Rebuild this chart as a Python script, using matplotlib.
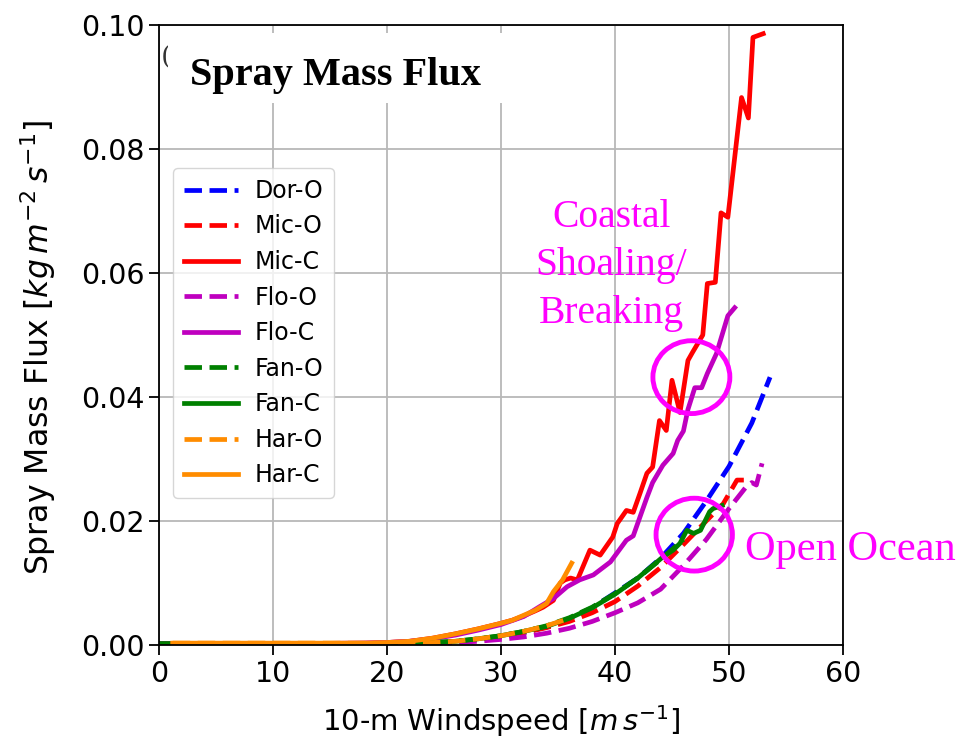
import matplotlib
matplotlib.use("Agg")
import matplotlib.pyplot as plt
from matplotlib.patches import Ellipse, Rectangle

# ---- data: 10-m wind speed [m/s] vs spray mass flux [kg m^-2 s^-1] ----
dor_o_u = [0, 10, 20, 24, 26, 28, 30, 32, 34, 36, 38, 40, 42, 44, 46, 48, 50, 52, 53.6]
dor_o_f = [0.0002, 0.0002, 0.0002, 0.0003, 0.0005, 0.0009, 0.0014, 0.0020, 0.0029, 0.0042,
           0.0060, 0.0084, 0.0108, 0.0140, 0.0180, 0.0232, 0.0288, 0.0358, 0.0432]

mic_o_u = [0, 10, 20, 24, 26, 28, 30, 32, 34, 36, 38, 40, 42, 44, 46, 48, 49.5, 50.7, 51.3]
mic_o_f = [0.0002, 0.0002, 0.0002, 0.0003, 0.0005, 0.0009, 0.0013, 0.0020, 0.0028, 0.0038,
           0.0052, 0.0070, 0.0095, 0.0125, 0.0162, 0.0200, 0.0228, 0.0266, 0.0266]

mic_c_u = [0, 10, 18, 20, 22, 24, 26, 28, 30, 31, 32, 33, 33.7, 34.6, 35.2, 35.6, 36.1, 36.7,
           37.8, 38.7, 39.8, 40.2, 41.0, 41.6, 42.2, 42.8, 43.3, 43.9, 44.5, 45.0, 45.7, 46.4,
           46.8, 47.7, 48.1, 48.8, 49.3, 49.9, 51.1, 51.7, 52.1, 53.0]
mic_c_f = [0.0002, 0.0002, 0.0003, 0.0004, 0.0006, 0.0011, 0.0018, 0.0026, 0.0035, 0.0040,
           0.0047, 0.0055, 0.0061, 0.0072, 0.0100, 0.0105, 0.0108, 0.0105, 0.0153, 0.0145,
           0.0174, 0.0196, 0.0217, 0.0214, 0.0245, 0.0277, 0.0287, 0.0362, 0.0346, 0.0427,
           0.0375, 0.0459, 0.0472, 0.0500, 0.0583, 0.0585, 0.0697, 0.0690, 0.0883, 0.0850,
           0.0980, 0.0986]

flo_o_u = [0, 10, 20, 24, 26, 28, 30, 32, 34, 36, 38, 40, 42, 44, 46, 48, 50, 51.5, 52.0,
           52.4, 52.9]
flo_o_f = [0.0002, 0.0002, 0.0002, 0.0003, 0.0004, 0.0006, 0.0009, 0.0013, 0.0019, 0.0027,
           0.0038, 0.0052, 0.0068, 0.0090, 0.0128, 0.0170, 0.0220, 0.0255, 0.0262, 0.0258,
           0.0293]

flo_c_u = [0, 10, 18, 20, 22, 24, 26, 28, 30, 32, 33.4, 34.6, 35.8, 36.9, 38.1, 39.6, 41.0,
           41.6, 42.8, 43.3, 44.2, 45.1, 45.5, 46.0, 46.4, 47.0, 47.6, 48.1, 48.9, 49.9, 50.5]
flo_c_f = [0.0002, 0.0002, 0.0003, 0.0004, 0.0006, 0.0010, 0.0016, 0.0024, 0.0033, 0.0046,
           0.0062, 0.0075, 0.0094, 0.0105, 0.0113, 0.0134, 0.0169, 0.0176, 0.0238, 0.0262,
           0.0290, 0.0309, 0.0330, 0.0345, 0.0380, 0.0415, 0.0415, 0.0438, 0.0470, 0.0531,
           0.0544]

fan_o_u = [0, 10, 20, 23, 26, 28, 30, 32, 34, 36, 38, 40, 42, 44, 46]
fan_o_f = [0.0002, 0.0002, 0.0002, 0.0003, 0.0006, 0.0010, 0.0015, 0.0022, 0.0031, 0.0044,
           0.0061, 0.0083, 0.0108, 0.0138, 0.0170]

fan_c_u = [0, 10, 20, 23, 26, 28, 30, 32, 34, 36, 38, 40, 42, 44.2, 45.1, 45.7, 46.3, 46.9,
           47.5, 48.3, 48.6, 49.4]
fan_c_f = [0.0002, 0.0002, 0.0002, 0.0003, 0.0006, 0.0010, 0.0015, 0.0022, 0.0030, 0.0043,
           0.0060, 0.0082, 0.0108, 0.0142, 0.0153, 0.0164, 0.0185, 0.0180, 0.0185, 0.0215,
           0.0220, 0.0225]

har_o_u = [1.2, 10, 20, 23, 26, 28, 30, 32, 34, 36]
har_o_f = [0.0003, 0.0003, 0.0003, 0.0003, 0.0006, 0.0010, 0.0015, 0.0022, 0.0031, 0.0043]

har_c_u = [1.2, 5, 10, 15, 18, 20, 22, 24, 26, 28, 30, 31, 32, 33, 34.0, 34.6, 35.4, 36.2]
har_c_f = [0.0003, 0.0003, 0.0003, 0.0003, 0.0003, 0.0004, 0.0006, 0.0011, 0.0018, 0.0026,
           0.0035, 0.0040, 0.0048, 0.0056, 0.0067, 0.0086, 0.0105, 0.0132]

series = [
    ("Dor-O", dor_o_u, dor_o_f, "b", "--"),
    ("Mic-O", mic_o_u, mic_o_f, "r", "--"),
    ("Mic-C", mic_c_u, mic_c_f, "r", "-"),
    ("Flo-O", flo_o_u, flo_o_f, "m", "--"),
    ("Flo-C", flo_c_u, flo_c_f, "m", "-"),
    ("Fan-O", fan_o_u, fan_o_f, "g", "--"),
    ("Fan-C", fan_c_u, fan_c_f, "g", "-"),
    ("Har-O", har_o_u, har_o_f, "darkorange", "--"),
    ("Har-C", har_c_u, har_c_f, "darkorange", "-"),
]

W, H = 961, 737
fig = plt.figure(figsize=(W / 100, H / 100), dpi=100)
ax = fig.add_axes([159 / W, 1 - 645 / H, 684 / W, 620 / H])

for name, u, f, c, ls in series:
    ax.plot(u, f, color=c, linestyle=ls, linewidth=3.4, label=name)

ax.set_xlim(0, 60)
ax.set_ylim(0, 0.1)
ax.set_xticks([0, 10, 20, 30, 40, 50, 60])
ax.set_yticks([0.0, 0.02, 0.04, 0.06, 0.08, 0.10])
ax.set_yticklabels(["0.00", "0.02", "0.04", "0.06", "0.08", "0.10"])
ax.tick_params(labelsize=20.5, direction="out", length=7, width=1.3)
ax.grid(True, color="#b8b8b8", linewidth=1.3)
for s in ax.spines.values():
    s.set_linewidth(1.3)

ax.set_xlabel(r"10-m Windspeed [$m\,s^{-1}$]", fontsize=21)
ax.set_ylabel(r"Spray Mass Flux [$kg\,m^{-2}\,s^{-1}$]", fontsize=22.7)
ax.xaxis.set_label_coords(0.5, -0.093)
ax.yaxis.set_label_coords(-0.147, 0.48)

leg = ax.legend(loc="upper left", bbox_to_anchor=(0.0205, 0.769), borderaxespad=0,
                fontsize=17, handlelength=2.3, handletextpad=0.7, labelspacing=0.49,
                borderpad=0.45, framealpha=0.8, edgecolor="#cccccc")

# title panel in the upper-left corner of the axes
fig.text(166 / W, 1 - 57 / H, "(", fontsize=20, family="Liberation Serif",
         color="#333333", ha="center", va="center")
fig.patches.append(Rectangle((168 / W, 1 - 103 / H), (505 - 168) / W, 70 / H,
                             transform=fig.transFigure, facecolor="white",
                             edgecolor="none", zorder=5))
fig.text(335 / W, 1 - 85 / H, "Spray Mass Flux", fontsize=29, fontweight="bold",
         family="Liberation Serif", ha="center", va="baseline", zorder=6)

# highlighted regions
mag = "#ff00ff"
ax.add_patch(Ellipse((46.7, 0.0432), 6.75, 0.01175, fill=False, edgecolor=mag,
                     linewidth=3.5, zorder=10, clip_on=False))
ax.add_patch(Ellipse((46.95, 0.0178), 6.7, 0.01175, fill=False, edgecolor=mag,
                     linewidth=3.5, zorder=10, clip_on=False))
ax.text(39.7, 0.0612, "Coastal\nShoaling/\nBreaking", color=mag, fontsize=28.5,
        family="Liberation Serif", ha="center", va="center", linespacing=1.4,
        zorder=11)
ax.text(51.4, 0.0153, "Open Ocean", color=mag, fontsize=30.5,
        family="Liberation Serif", ha="left", va="center", clip_on=False, zorder=11)

fig.savefig("out.png", dpi=100)
